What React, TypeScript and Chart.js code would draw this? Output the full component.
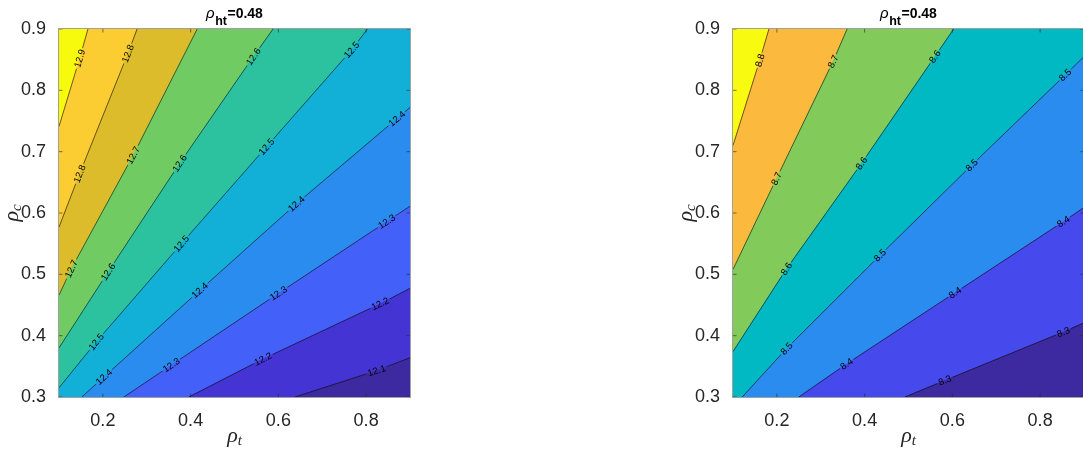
import React, { useEffect, useRef } from "react";
import { Chart, registerables } from "chart.js";

Chart.register(...registerables);

type Pt = [number, number];

// ---------- axes ----------
const X_MIN = 0.1;
const X_MAX = 0.9;
const Y_MIN = 0.3;
const Y_MAX = 0.9;
const xTickValues = [0.2, 0.4, 0.6, 0.8];
const yTickValues = [0.3, 0.4, 0.5, 0.6, 0.7, 0.8, 0.9];

// ---------- texts ----------
const titleSymbol = "ρ";
const titleSubscript = "ht";
const titleValue = "=0.48";
const xLabelSymbol = "ρ";
const xLabelSubscript = "t";
const yLabelSymbol = "ρ";
const yLabelSubscript = "c";

// ---------- left panel ----------
const leftLevels = [12.1, 12.2, 12.3, 12.4, 12.5, 12.6, 12.7, 12.8, 12.9];
const leftLines: Pt[][] = [
  [[0.638, 0.3], [0.824, 0.343], [0.9, 0.364]],
  [[0.396, 0.3], [0.565, 0.362], [0.832, 0.452], [0.9, 0.477]],
  [[0.248, 0.3], [0.356, 0.352], [0.6, 0.469], [0.847, 0.586], [0.9, 0.611]],
  [[0.152, 0.3], [0.421, 0.474], [0.641, 0.615], [0.9, 0.772]],
  [[0.1, 0.315], [0.185, 0.39], [0.379, 0.55], [0.573, 0.708], [0.767, 0.866], [0.803, 0.9]],
  [[0.1, 0.38], [0.212, 0.504], [0.375, 0.681], [0.543, 0.855], [0.588, 0.9]],
  [[0.1, 0.466], [0.128, 0.509], [0.269, 0.694], [0.415, 0.9]],
  [[0.1, 0.577], [0.147, 0.664], [0.257, 0.86], [0.278, 0.9]],
  [[0.1, 0.741], [0.147, 0.852], [0.166, 0.9]],
];
const leftLabelPositions: Pt[][] = [
  [[0.824, 0.343]],
  [[0.565, 0.362], [0.832, 0.452]],
  [[0.356, 0.352], [0.6, 0.469], [0.847, 0.586]],
  [[0.2, 0.335], [0.421, 0.474], [0.641, 0.615], [0.87, 0.754]],
  [[0.185, 0.39], [0.379, 0.55], [0.573, 0.708], [0.767, 0.866]],
  [[0.212, 0.504], [0.375, 0.681], [0.543, 0.855]],
  [[0.128, 0.509], [0.269, 0.694]],
  [[0.147, 0.664], [0.257, 0.86]],
  [[0.147, 0.852]],
];
const leftColors = [
  "#3d2aa0", "#4434d4", "#4361f9", "#2a8cee", "#12afd7",
  "#2cc2a0", "#70cc62", "#dcbc2a", "#fccd32", "#f8fa0e",
];

// ---------- right panel ----------
const rightLevels = [8.3, 8.4, 8.5, 8.6, 8.7, 8.8];
const rightLines: Pt[][] = [
  [[0.492, 0.3], [0.583, 0.327], [0.853, 0.406], [0.9, 0.421]],
  [[0.25, 0.3], [0.359, 0.354], [0.606, 0.47], [0.853, 0.586], [0.9, 0.609]],
  [[0.121, 0.3], [0.222, 0.379], [0.435, 0.531], [0.644, 0.678], [0.857, 0.825], [0.9, 0.855]],
  [[0.1, 0.374], [0.222, 0.509], [0.393, 0.681], [0.56, 0.855], [0.603, 0.9]],
  [[0.1, 0.508], [0.199, 0.656], [0.328, 0.847], [0.36, 0.9]],
  [[0.1, 0.71], [0.161, 0.849], [0.182, 0.9]],
];
const rightLabelPositions: Pt[][] = [
  [[0.583, 0.327], [0.853, 0.406]],
  [[0.359, 0.354], [0.606, 0.47], [0.853, 0.586]],
  [[0.222, 0.379], [0.435, 0.531], [0.644, 0.678], [0.857, 0.825]],
  [[0.222, 0.509], [0.393, 0.681], [0.56, 0.855]],
  [[0.199, 0.656], [0.328, 0.847]],
  [[0.161, 0.849]],
];
const rightColors = [
  "#3d2aa0", "#4649ec", "#2a8cee", "#00b9c3", "#82ca5a", "#fbba3e", "#f8fa0f",
];

const SANS = "'Liberation Sans', Arial, Helvetica, sans-serif";
const SERIF = "'Liberation Serif', 'Times New Roman', serif";
const LABEL_SIZE = 9.5;

function regionPolygons(lines: Pt[][]): Pt[][] {
  const W = X_MAX - X_MIN;
  const H = Y_MAX - Y_MIN;
  const eps = 1e-6;
  const sLL = ([x, y]: Pt) => (Math.abs(x - X_MIN) < eps ? Y_MAX - y : H + (x - X_MIN));
  const sUR = ([x, y]: Pt) => (Math.abs(y - Y_MAX) < eps ? x - X_MIN : W + (Y_MAX - y));
  const TL: Pt[] = [[X_MIN, Y_MAX]];
  const BR: Pt[] = [[X_MAX, Y_MIN]];
  const polys: Pt[][] = [];
  for (let i = 0; i <= lines.length; i++) {
    const A = i < lines.length ? lines[i] : TL;
    const B = i > 0 ? lines[i - 1] : BR;
    const poly: Pt[] = [...A];
    const aEnd = A[A.length - 1];
    const bEnd = B[B.length - 1];
    if (sUR(aEnd) < W - eps && sUR(bEnd) > W + eps) poly.push([X_MAX, Y_MAX]);
    for (let k = B.length - 1; k >= 0; k--) poly.push(B[k]);
    if (sLL(B[0]) > H + eps && sLL(A[0]) < H - eps) poly.push([X_MIN, Y_MIN]);
    polys.push(poly);
  }
  return polys;
}

function labelGeometry(chart: any, line: Pt[], pos: Pt) {
  const xs = chart.scales.x;
  const ys = chart.scales.y;
  const P = line.map(([a, b]) => [xs.getPixelForValue(a), ys.getPixelForValue(b)]);
  const qx = xs.getPixelForValue(pos[0]);
  const qy = ys.getPixelForValue(pos[1]);
  let best = { d: Infinity, x: qx, y: qy, a: 0 };
  for (let i = 0; i < P.length - 1; i++) {
    const [x1, y1] = P[i];
    const [x2, y2] = P[i + 1];
    const dx = x2 - x1;
    const dy = y2 - y1;
    const L2 = dx * dx + dy * dy;
    let t = ((qx - x1) * dx + (qy - y1) * dy) / L2;
    t = Math.max(0, Math.min(1, t));
    const px = x1 + t * dx;
    const py = y1 + t * dy;
    const d = (px - qx) ** 2 + (py - qy) ** 2;
    if (d < best.d) {
      let a = Math.atan2(dy, dx);
      if (a > Math.PI / 2) a -= Math.PI;
      if (a <= -Math.PI / 2) a += Math.PI;
      best = { d, x: px, y: py, a };
    }
  }
  return best;
}

function rectPath(ctx: CanvasRenderingContext2D, cx: number, cy: number, ang: number, w: number, h: number) {
  const c = Math.cos(ang);
  const s = Math.sin(ang);
  const pts = [
    [-w / 2, -h / 2],
    [w / 2, -h / 2],
    [w / 2, h / 2],
    [-w / 2, h / 2],
  ].map(([u, v]) => [cx + u * c - v * s, cy + u * s + v * c]);
  ctx.moveTo(pts[0][0], pts[0][1]);
  for (let i = 1; i < 4; i++) ctx.lineTo(pts[i][0], pts[i][1]);
  ctx.closePath();
}

interface PanelProps {
  left: number;
  width: number;
  yAxisWidth: number;
  padRight: number;
  levels: number[];
  lines: Pt[][];
  labels: Pt[][];
  colors: string[];
}

function Panel(p: PanelProps) {
  const ref = useRef<HTMLCanvasElement>(null);
  useEffect(() => {
    const canvas = ref.current!;
    const polys = regionPolygons(p.lines);
    const datasets: any[] = [];
    p.lines.forEach((line, k) =>
      datasets.push({
        data: line.map(([x, y]) => ({ x, y })),
        borderColor: "rgba(10,10,10,0.9)",
        borderWidth: 0.65,
        pointRadius: 0,
        fill: false,
        tension: 0,
        order: 1,
        clip: 0,
        contourIndex: k,
      })
    );
    polys.forEach((poly, i) =>
      datasets.push({
        data: poly.map(([x, y]) => ({ x, y })),
        backgroundColor: p.colors[i],
        borderColor: p.colors[i],
        borderWidth: 1,
        pointRadius: 0,
        fill: "shape",
        tension: 0,
        order: 2,
        clip: 0,
      })
    );

    const labelGeo = (chart: any) =>
      p.labels.map((arr, k) =>
        arr.map((pos) => ({ ...labelGeometry(chart, p.lines[k], pos), text: p.levels[k].toFixed(1) }))
      );

    const decor = {
      id: "contourDecor",
      beforeDatasetDraw(chart: any, args: any) {
        const ds = chart.data.datasets[args.index];
        if (ds.contourIndex === undefined) return;
        const ctx = chart.ctx;
        const a = chart.chartArea;
        ctx.save();
        ctx.font = `${LABEL_SIZE}px ${SANS}`;
        ctx.beginPath();
        ctx.rect(a.left, a.top, a.right - a.left, a.bottom - a.top);
        for (const g of labelGeo(chart)[ds.contourIndex]) {
          const w = ctx.measureText(g.text).width + 3;
          rectPath(ctx, g.x, g.y, g.a, w, 9);
        }
        ctx.clip("evenodd");
      },
      afterDatasetDraw(chart: any, args: any) {
        const ds = chart.data.datasets[args.index];
        if (ds.contourIndex === undefined) return;
        chart.ctx.restore();
      },
      afterDatasetsDraw(chart: any) {
        const ctx = chart.ctx as CanvasRenderingContext2D;
        const a = chart.chartArea;
        // contour labels
        ctx.save();
        ctx.font = `${LABEL_SIZE}px ${SANS}`;
        ctx.fillStyle = "#000";
        ctx.textAlign = "center";
        ctx.textBaseline = "middle";
        for (const arr of labelGeo(chart)) {
          for (const g of arr) {
            ctx.save();
            ctx.translate(g.x, g.y);
            ctx.rotate(g.a);
            ctx.fillText(g.text, 0, 0.5);
            ctx.restore();
          }
        }
        ctx.restore();
        // inward tick marks
        ctx.save();
        ctx.strokeStyle = "#262626";
        ctx.lineWidth = 0.6;
        ctx.beginPath();
        const tl = 3.5;
        for (const v of xTickValues) {
          const x = chart.scales.x.getPixelForValue(v);
          ctx.moveTo(x, a.bottom);
          ctx.lineTo(x, a.bottom - tl);
          ctx.moveTo(x, a.top);
          ctx.lineTo(x, a.top + tl);
        }
        for (const v of yTickValues) {
          const y = chart.scales.y.getPixelForValue(v);
          ctx.moveTo(a.left, y);
          ctx.lineTo(a.left + tl, y);
          ctx.moveTo(a.right, y);
          ctx.lineTo(a.right - tl, y);
        }
        ctx.stroke();
        // box
        ctx.strokeStyle = "#a0a0a0";
        ctx.lineWidth = 1;
        ctx.strokeRect(a.left - 0.5, a.top - 0.5, a.right - a.left + 1, a.bottom - a.top + 1);
        ctx.restore();
      },
      afterDraw(chart: any) {
        const ctx = chart.ctx as CanvasRenderingContext2D;
        const a = chart.chartArea;
        const cx = (a.left + a.right) / 2;
        ctx.save();
        ctx.fillStyle = "#000";
        ctx.textBaseline = "alphabetic";
        ctx.textAlign = "left";
        // title
        const f1 = `italic 15px ${SANS}`;
        const f2 = `bold 12.5px ${SANS}`;
        const f3 = `bold 14px ${SANS}`;
        ctx.font = f1;
        const w1 = ctx.measureText(titleSymbol).width;
        ctx.font = f2;
        const w2 = ctx.measureText(titleSubscript).width;
        ctx.font = f3;
        const w3 = ctx.measureText(titleValue).width;
        let x0 = cx - (w1 + w2 + w3 + 1) / 2;
        ctx.font = f1;
        ctx.fillText(titleSymbol, x0, 17.5);
        x0 += w1 + 0.5;
        ctx.font = f2;
        ctx.fillText(titleSubscript, x0, 24.5);
        x0 += w2 + 0.5;
        ctx.font = f3;
        ctx.fillText(titleValue, x0, 18.3);
        // axis labels
        ctx.fillStyle = "#262626";
        const g1 = `italic 22px ${SERIF}`;
        const g2 = `italic 15px ${SERIF}`;
        ctx.font = g1;
        const r1 = ctx.measureText(xLabelSymbol).width;
        ctx.font = g2;
        const r2 = ctx.measureText(xLabelSubscript).width;
        let xx = cx - (r1 + r2) / 2;
        ctx.font = g1;
        ctx.fillText(xLabelSymbol, xx, 441.5);
        xx += r1;
        ctx.font = g2;
        ctx.fillText(xLabelSubscript, xx, 445);
        // y label (rotated)
        ctx.save();
        const cy = (a.top + a.bottom) / 2;
        ctx.translate(a.left - 41.5, cy);
        ctx.rotate(-Math.PI / 2);
        ctx.font = g1;
        const s1 = ctx.measureText(yLabelSymbol).width;
        ctx.font = g2;
        const s2 = ctx.measureText(yLabelSubscript).width;
        let yx = -(s1 + s2) / 2;
        ctx.font = g1;
        ctx.fillText(yLabelSymbol, yx, 0);
        yx += s1;
        ctx.font = g2;
        ctx.fillText(yLabelSubscript, yx, 3.5);
        ctx.restore();
        ctx.restore();
      },
    };

    const tickFont = { family: SANS, size: 18 };
    const chart = new Chart(canvas, {
      type: "line",
      data: { datasets },
      options: {
        responsive: false,
        maintainAspectRatio: false,
        animation: false,
        devicePixelRatio: 1,
        layout: { padding: { left: 0, top: 29, right: p.padRight, bottom: 0 } },
        plugins: {
          legend: { display: false },
          tooltip: { enabled: false },
          title: { display: false },
        },
        elements: { line: { tension: 0 } },
        scales: {
          x: {
            type: "linear",
            min: X_MIN,
            max: X_MAX,
            grid: { display: false },
            border: { display: false },
            afterBuildTicks: (s: any) => {
              s.ticks = xTickValues.map((v) => ({ value: v }));
            },
            afterFit: (s: any) => {
              s.height = 452 - 397;
            },
            ticks: {
              font: tickFont,
              color: "#262626",
              padding: 5,
              maxRotation: 0,
              autoSkip: false,
              callback: (v: any) => Number(v).toFixed(1),
            },
          },
          y: {
            type: "linear",
            min: Y_MIN,
            max: Y_MAX,
            grid: { display: false },
            border: { display: false },
            afterBuildTicks: (s: any) => {
              s.ticks = yTickValues.map((v) => ({ value: v }));
            },
            afterFit: (s: any) => {
              s.width = p.yAxisWidth;
            },
            ticks: {
              font: tickFont,
              color: "#262626",
              padding: 5,
              autoSkip: false,
              callback: (v: any) => Number(v).toFixed(1),
            },
          },
        },
      } as any,
      plugins: [decor],
    });
    return () => chart.destroy();
  }, []);
  return (
    <canvas
      ref={ref}
      width={p.width}
      height={452}
      style={{ position: "absolute", left: p.left, top: 0, width: p.width, height: 452 }}
    />
  );
}

export default function App() {
  return (
    <div
      style={{
        position: "fixed",
        left: 0,
        top: 0,
        width: 1083,
        height: 452,
        overflow: "hidden",
        background: "#fff",
      }}
    >
      <Panel
        left={0}
        width={440}
        yAxisWidth={59}
        padRight={30}
        levels={leftLevels}
        lines={leftLines}
        labels={leftLabelPositions}
        colors={leftColors}
      />
      <Panel
        left={680}
        width={440}
        yAxisWidth={53}
        padRight={36}
        levels={rightLevels}
        lines={rightLines}
        labels={rightLabelPositions}
        colors={rightColors}
      />
    </div>
  );
}
